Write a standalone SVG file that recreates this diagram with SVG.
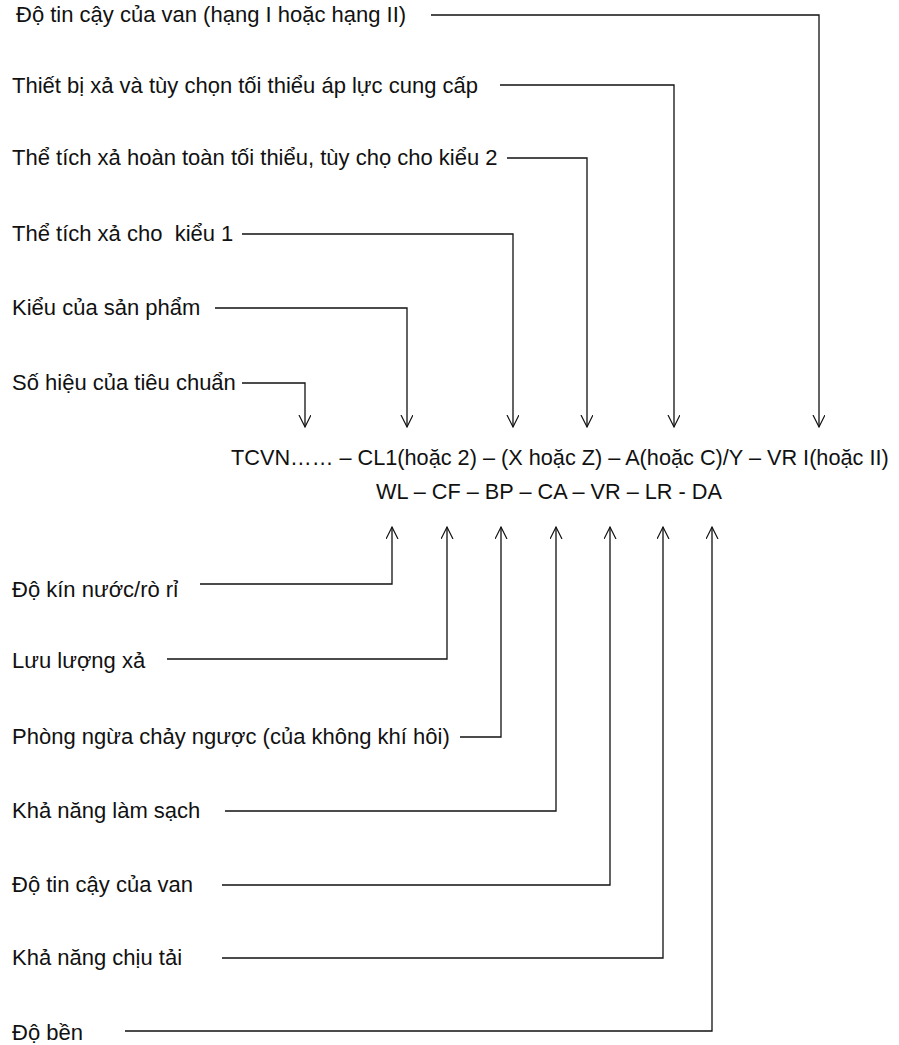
<svg xmlns="http://www.w3.org/2000/svg" width="899" height="1045" viewBox="0 0 899 1045">
<defs>
<marker id="arr" markerUnits="userSpaceOnUse" markerWidth="14" markerHeight="14" refX="12" refY="6" orient="auto">
<path d="M0,0 L12,6 L0,12" fill="none" stroke="#111" stroke-width="1.2"/>
</marker>
<style>
.lbl{font-family:"Liberation Sans",Arial,sans-serif;font-size:22px;fill:#111}
.code{font-family:"Liberation Sans",Arial,sans-serif;font-size:21.7px;fill:#111}
.c{fill:none;stroke:#111;stroke-width:1.3}
.a{marker-end:url(#arr)}
</style>
</defs>
<rect width="899" height="1045" fill="#fff"/>

<g id="code">
<text class="code" x="231" y="465">TCVN…… – CL1(hoặc 2) – (X hoặc Z) – A(hoặc C)/Y – VR I(hoặc II)</text>
<text class="code" x="376" y="499">WL – CF – BP – CA – VR – LR - DA</text>
</g>

<g id="n-do-tin-cay-hang"><text class="lbl" x="16" y="22">Độ tin cậy của van (hạng I hoặc hạng II)</text></g>
<g id="n-thiet-bi-xa"><text class="lbl" x="12" y="93">Thiết bị xả và tùy chọn tối thiểu áp lực cung cấp</text></g>
<g id="n-the-tich-kieu2"><text class="lbl" x="12" y="165">Thể tích xả hoàn toàn tối thiểu, tùy chọ cho kiểu 2</text></g>
<g id="n-the-tich-kieu1"><text class="lbl" x="12" y="241" xml:space="preserve">Thể tích xả cho  kiểu 1</text></g>
<g id="n-kieu-san-pham"><text class="lbl" x="12" y="315">Kiểu của sản phẩm</text></g>
<g id="n-so-hieu"><text class="lbl" x="12" y="390">Số hiệu của tiêu chuẩn</text></g>

<g id="n-do-kin"><text class="lbl" x="12" y="597">Độ kín nước/rò rỉ</text></g>
<g id="n-luu-luong"><text class="lbl" x="12" y="668">Lưu lượng xả</text></g>
<g id="n-phong-ngua"><text class="lbl" x="12" y="744">Phòng ngừa chảy ngược (của không khí hôi)</text></g>
<g id="n-lam-sach"><text class="lbl" x="12" y="818">Khả năng làm sạch</text></g>
<g id="n-do-tin-cay"><text class="lbl" x="12" y="892">Độ tin cậy của van</text></g>
<g id="n-chiu-tai"><text class="lbl" x="12" y="965">Khả năng chịu tải</text></g>
<g id="n-do-ben"><text class="lbl" x="12" y="1040">Độ bền</text></g>

<g id="connectors">
<path class="c a" d="M431,15 H819 V427"/>
<path class="c a" d="M500,85 H674 V427"/>
<path class="c a" d="M507,158 H587 V427"/>
<path class="c a" d="M242,234 H513 V427"/>
<path class="c a" d="M215,308 H407 V427"/>
<path class="c a" d="M242,383 H305 V427"/>

<path class="c a" d="M200,584 H392 V527"/>
<path class="c a" d="M167,659 H447 V527"/>
<path class="c a" d="M460,737 H501 V527"/>
<path class="c a" d="M225,811 H556 V527"/>
<path class="c a" d="M222,885 H610 V527"/>
<path class="c a" d="M222,958 H663 V527"/>
<path class="c a" d="M125,1031 H712 V527"/>
</g>
</svg>
